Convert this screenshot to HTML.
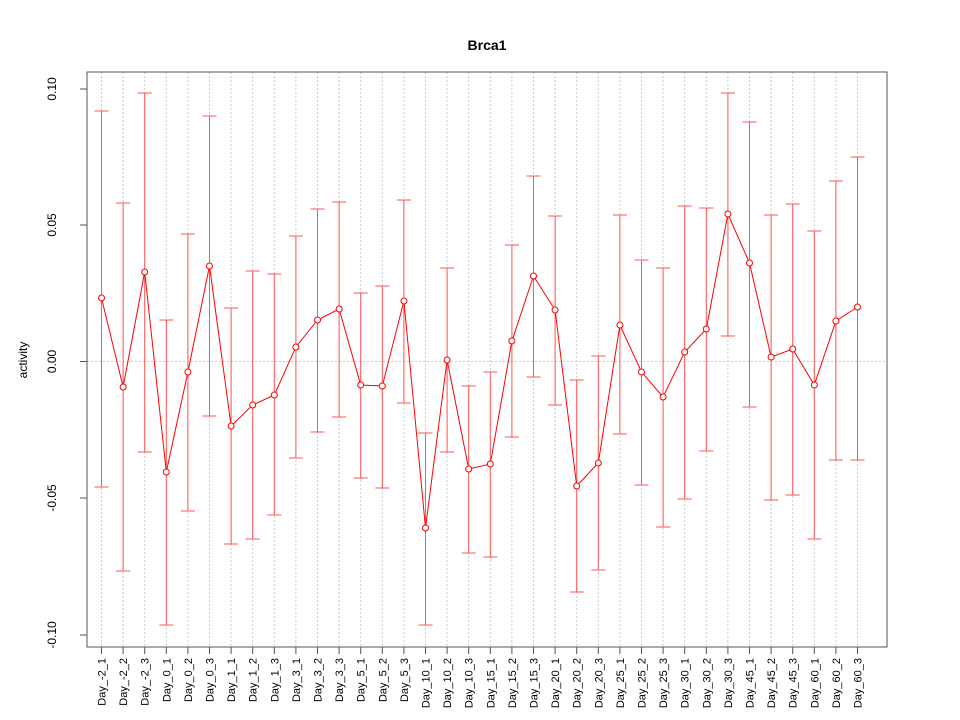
<!DOCTYPE html>
<html><head><meta charset="utf-8"><style>body{margin:0;background:#fff}svg{display:block}text{font-family:"Liberation Sans",sans-serif}</style></head>
<body>
<svg id="s" width="960" height="720" xmlns="http://www.w3.org/2000/svg"></svg>
<script>
const labels=["Day_-2_1","Day_-2_2","Day_-2_3","Day_0_1","Day_0_2","Day_0_3","Day_1_1","Day_1_2","Day_1_3","Day_3_1","Day_3_2","Day_3_3","Day_5_1","Day_5_2","Day_5_3","Day_10_1","Day_10_2","Day_10_3","Day_15_1","Day_15_2","Day_15_3","Day_20_1","Day_20_2","Day_20_3","Day_25_1","Day_25_2","Day_25_3","Day_30_1","Day_30_2","Day_30_3","Day_45_1","Day_45_2","Day_45_3","Day_60_1","Day_60_2","Day_60_3"];
const d=[[298,111,487],[387,203,571],[272,93,452],[472,320,625],[372,234,511],[266,116,416],[426,308,544],[405,271,539],[395,274,515],[347,236,458],[320,209,432],[309,202,417],[385,293,478],[386,286,488],[301,200,403],[528,433,625],[360,268,452],[469,386,553],[464,372,557],[341,245,437],[276,176,377],[310,216,405],[486,380,592],[463,356,570],[325,215,434],[372,260,485],[397,268,527],[352,206,499],[329,208,451],[214,93,336],[263,122,407],[357,215,500],[349,204,495],[385,231,539],[321,181,460],[307,157,460]];
let h='';
const X=i=>101.5+i*21.6;
const ys=[[89,"0.10"],[225,"0.05"],[361.5,"0.00"],[498,"-0.05"],[635,"-0.10"]];
h+=`<line x1="87" x2="887" y1="361.5" y2="361.5" stroke="#ccc" stroke-dasharray="2,2"/>`;
for(const [y,t] of ys){
h+=`<line x1="80" x2="87" y1="${y}" y2="${y}" stroke="#555"/><text transform="translate(56,${y}) rotate(-90)" text-anchor="middle" font-size="12">${t}</text>`;}
labels.forEach((l,i)=>{const x=X(i);h+=`<line x1="${x}" x2="${x}" y1="72" y2="647" stroke="#ccc" stroke-dasharray="2,2"/>`;
h+=`<line x1="${x}" x2="${x}" y1="647" y2="654" stroke="#555"/><text transform="translate(${x+4},658) rotate(-90)" text-anchor="end" font-size="11">${l}</text>`;});
h+=`<rect x="87" y="72" width="800" height="575" fill="none" stroke="#555"/>`;
d.forEach((v,i)=>{const x=X(i);h+=`<g stroke="#f55"><line x1="${x}" x2="${x}" y1="${v[1]}" y2="${v[2]}"/><line x1="${x-7}" x2="${x+7}" y1="${v[1]}" y2="${v[1]}"/><line x1="${x-7}" x2="${x+7}" y1="${v[2]}" y2="${v[2]}"/></g>`;});
h+=`<polyline fill="none" stroke="#f00" points="${d.map((v,i)=>X(i)+','+v[0]).join(' ')}"/>`;
d.forEach((v,i)=>{h+=`<circle cx="${X(i)}" cy="${v[0]}" r="3" fill="#fff" stroke="#f00"/>`;});
h+=`<text x="487" y="50" text-anchor="middle" font-size="14" font-weight="bold">Brca1</text>`;
h+=`<text transform="translate(27,360) rotate(-90)" text-anchor="middle" font-size="12">activity</text>`;
document.getElementById('s').innerHTML=h;
</script>
</body></html>
